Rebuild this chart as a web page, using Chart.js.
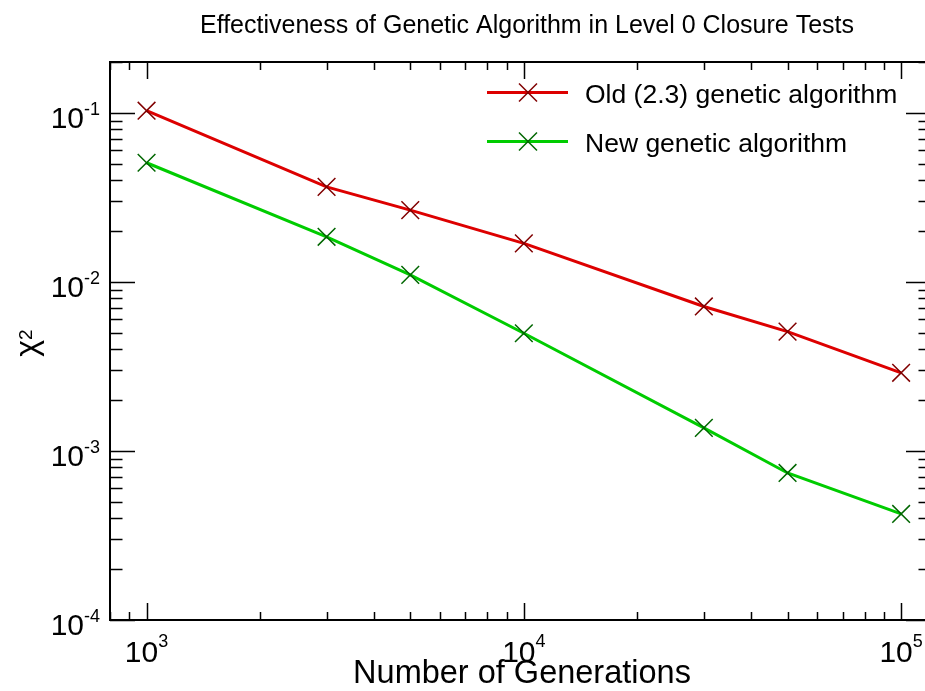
<!DOCTYPE html>
<html>
<head>
<meta charset="utf-8">
<script src="https://cdn.jsdelivr.net/npm/chart.js@4/dist/chart.umd.min.js"></script>
<style>
  html, body { margin: 0; padding: 0; background: #fff; overflow: hidden; }
  #wrap { width: 925px; height: 691px; overflow: hidden; }
</style>
</head>
<body>
<div id="wrap"><canvas id="graph" width="945" height="691"></canvas></div>
<script>
// number of generations
var generations = [1000, 3000, 5000, 10000, 30000, 50000, 100000];
// chi^2 values
var oldChi2 = [0.103, 0.0365, 0.0266, 0.0169, 0.00716, 0.00508, 0.00290];
var newChi2 = [0.0507, 0.0185, 0.0110, 0.00497, 0.00137, 0.000741, 0.000424];

var seriesLabels = ["Old (2.3) genetic algorithm", "New genetic algorithm"];
var xMajorTicks = [1e3, 1e4, 1e5];
var xTickExp = ["3", "4", "5"];
var yMajorTicks = [1e-4, 1e-3, 1e-2, 1e-1];
var yTickExp = ["-4", "-3", "-2", "-1"];

var FONT = "'Liberation Sans', Arial, Helvetica, sans-serif";

var toPoints = function(ys) {
  return generations.map(function(g, i) { return {x: g, y: ys[i]}; });
};

// 10 with superscript exponent, align = 'center' or 'right'
var drawPow = function(ctx, exp, x, y, align, rise) {
  ctx.font = "30px " + FONT;
  var wb = ctx.measureText("10").width;
  ctx.font = "18px " + FONT;
  var we = ctx.measureText(exp).width;
  var left = align === "right" ? x - wb - we : x - (wb + we) / 2;
  ctx.textAlign = "left";
  ctx.textBaseline = "alphabetic";
  ctx.font = "30px " + FONT;
  ctx.fillText("10", left, y);
  ctx.font = "18px " + FONT;
  ctx.fillText(exp, left + wb, y - rise);
};

var framePlugin = {
  id: "frame",
  afterDraw: function(chart) {
    var ctx = chart.ctx, a = chart.chartArea;
    var xs = chart.scales.x, ys = chart.scales.y;
    ctx.save();
    ctx.fillStyle = "#000";
    ctx.strokeStyle = "#000";

    // box
    ctx.lineWidth = 2;
    ctx.strokeRect(a.left, a.top, a.right - a.left, a.bottom - a.top);

    // ticks
    ctx.lineWidth = 1.5;
    ctx.beginPath();
    for (var d = 2; d <= 5; d++) {
      for (var m = 1; m <= 9; m++) {
        var v = m * Math.pow(10, d);
        if (v < xs.min || v > xs.max) continue;
        var px = Math.round(xs.getPixelForValue(v)) + 0.5;
        var len = m === 1 ? 17 : 8;
        ctx.moveTo(px, a.bottom); ctx.lineTo(px, a.bottom - len);
        ctx.moveTo(px, a.top); ctx.lineTo(px, a.top + len);
      }
    }
    for (var e = -4; e <= -1; e++) {
      for (var k = 1; k <= 9; k++) {
        var w = k * Math.pow(10, e);
        if (w < ys.min || w > ys.max) continue;
        var py = Math.round(ys.getPixelForValue(w)) + 0.5;
        var l2 = k === 1 ? 25 : 12.5;
        ctx.moveTo(a.left, py); ctx.lineTo(a.left + l2, py);
        ctx.moveTo(a.right, py); ctx.lineTo(a.right - l2, py);
      }
    }
    ctx.stroke();

    // tick labels
    xMajorTicks.forEach(function(v, i) {
      drawPow(ctx, xTickExp[i], xs.getPixelForValue(v), 662, "center", 15);
    });
    yMajorTicks.forEach(function(v, i) {
      drawPow(ctx, yTickExp[i], 100, ys.getPixelForValue(v) + 15, "right", 13);
    });

    // title
    ctx.textAlign = "center";
    ctx.font = "25px " + FONT;
    ctx.fillText("Effectiveness of Genetic Algorithm in Level 0 Closure Tests", 527, 33);

    // x axis title
    ctx.font = "32.5px " + FONT;
    ctx.fillText("Number of Generations", 522, 683);

    // y axis title (chi^2), rotated
    ctx.save();
    ctx.translate(37, 343);
    ctx.rotate(-Math.PI / 2);
    ctx.textAlign = "left";
    ctx.font = "32px " + FONT;
    var wc = ctx.measureText("\u03c7").width;
    ctx.font = "19px " + FONT;
    var w2 = ctx.measureText("2").width;
    var x0 = -(wc + w2) / 2;
    ctx.font = "32px " + FONT;
    ctx.fillText("\u03c7", x0, 0);
    ctx.font = "19px " + FONT;
    ctx.fillText("2", x0 + wc, -5);
    ctx.restore();

    // legend
    var rows = [92.5, 141.5];
    chart.data.datasets.forEach(function(ds, i) {
      var ly = rows[i];
      ctx.strokeStyle = ds.borderColor;
      ctx.lineWidth = 3;
      ctx.beginPath();
      ctx.moveTo(487, ly); ctx.lineTo(568, ly);
      ctx.stroke();
      ctx.strokeStyle = ds.pointBorderColor;
      ctx.lineWidth = 1.5;
      ctx.beginPath();
      ctx.moveTo(528 - 9, ly - 9); ctx.lineTo(528 + 9, ly + 9);
      ctx.moveTo(528 - 9, ly + 9); ctx.lineTo(528 + 9, ly - 9);
      ctx.stroke();
      ctx.fillStyle = "#000";
      ctx.textAlign = "left";
      ctx.font = "26.5px " + FONT;
      ctx.fillText(ds.label, 585, ly + 10);
    });
    ctx.restore();
  }
};

var ctx = document.getElementById("graph").getContext("2d");
var chart = new Chart(ctx, {
  type: "line",
  data: {
    datasets: [{
      label: seriesLabels[0],
      data: toPoints(oldChi2),
      borderColor: "#dd0000",
      borderWidth: 3,
      pointStyle: "crossRot",
      pointRadius: 12.5,
      pointBorderWidth: 1.5,
      pointBorderColor: "#800000",
      pointBackgroundColor: "#800000",
      tension: 0
    }, {
      label: seriesLabels[1],
      data: toPoints(newChi2),
      borderColor: "#00cc00",
      borderWidth: 3,
      pointStyle: "crossRot",
      pointRadius: 12.5,
      pointBorderWidth: 1.5,
      pointBorderColor: "#006600",
      pointBackgroundColor: "#006600",
      tension: 0
    }]
  },
  options: {
    responsive: false,
    animation: false,
    events: [],
    layout: { padding: { left: 110, right: 12, top: 62, bottom: 71 } },
    plugins: { legend: { display: false }, title: { display: false }, tooltip: { enabled: false } },
    scales: {
      x: {
        type: "logarithmic",
        min: 800,
        max: 120000,
        grid: { display: false },
        border: { display: false },
        ticks: { display: false },
        afterFit: function(s) { s.height = 0; }
      },
      y: {
        type: "logarithmic",
        min: 1e-4,
        max: 0.2,
        grid: { display: false },
        border: { display: false },
        ticks: { display: false },
        afterFit: function(s) { s.width = 0; }
      }
    }
  },
  plugins: [framePlugin]
});
</script>
</body>
</html>
